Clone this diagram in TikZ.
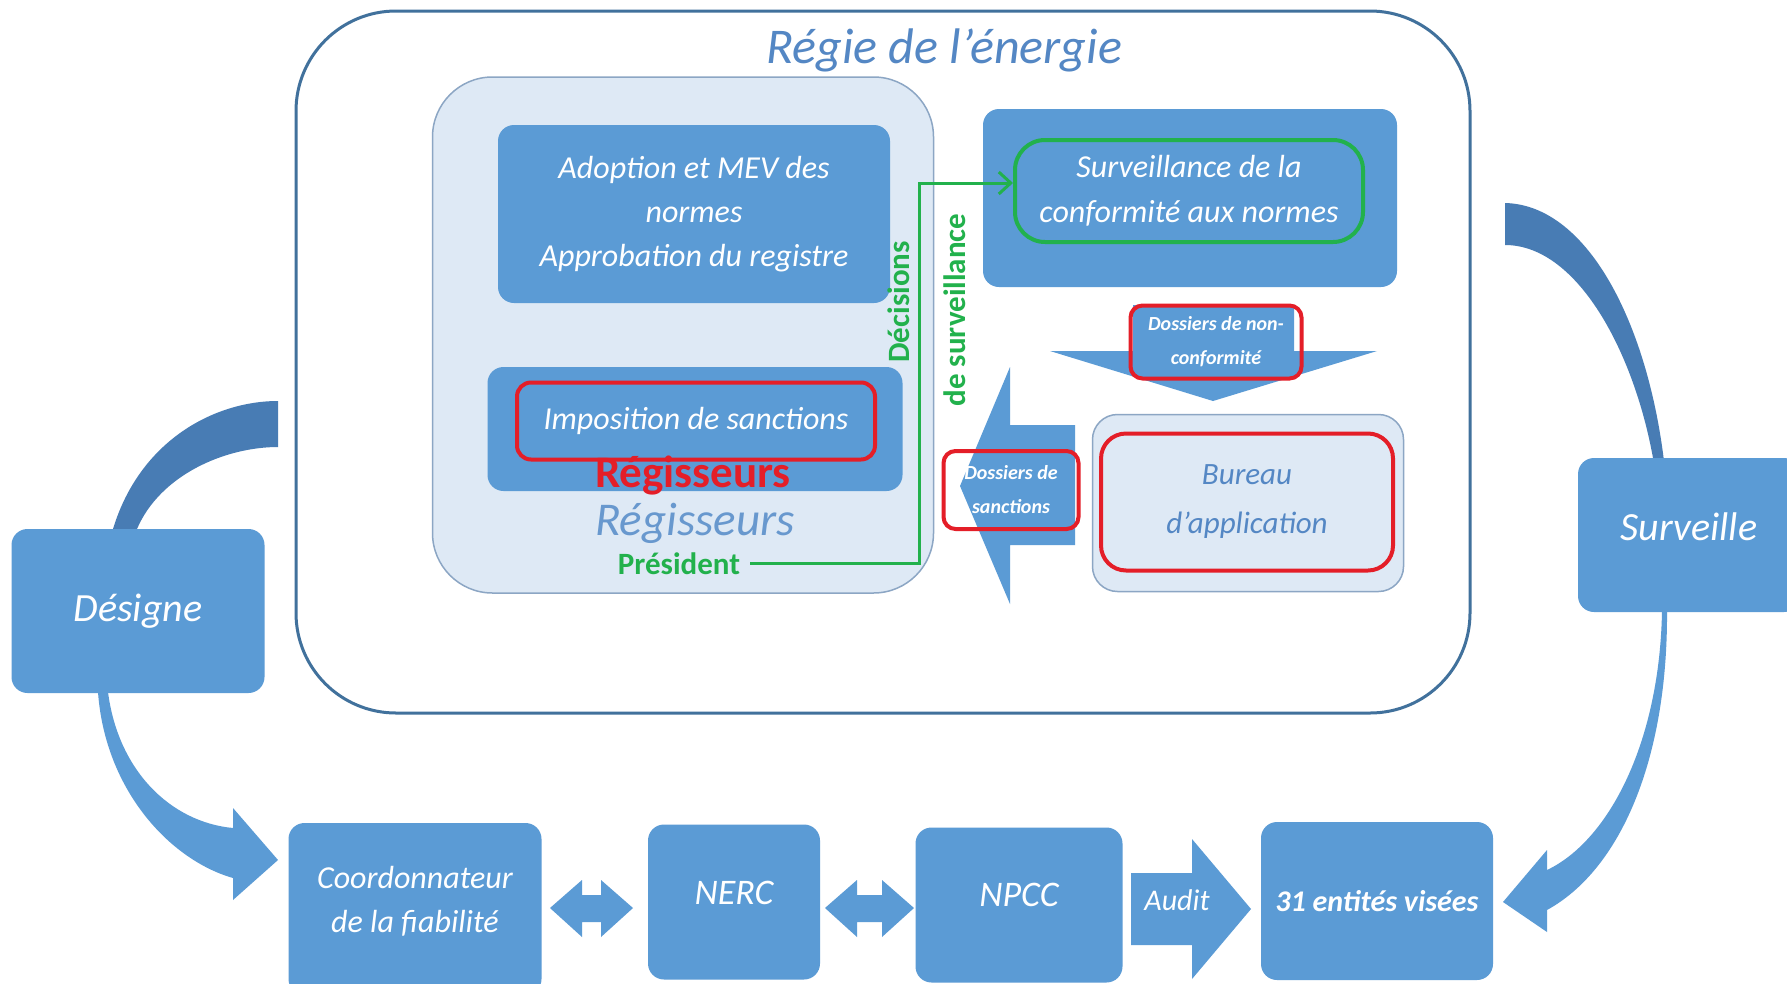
\documentclass[tikz,border=0pt]{standalone}
\usepackage{fontspec}
\setmainfont{Carlito}
\usetikzlibrary{arrows.meta, positioning, calc}
\definecolor{boxblue}{RGB}{91,155,213}
\definecolor{darkblue}{RGB}{72,124,180}
\definecolor{frameblue}{RGB}{65,113,156}
\definecolor{paleblue}{RGB}{222,233,245}
\definecolor{paleedge}{RGB}{140,166,196}
\definecolor{titleblue}{RGB}{84,135,196}
\definecolor{softblue}{RGB}{104,152,206}
\definecolor{ringred}{RGB}{228,30,40}
\definecolor{ringgreen}{RGB}{34,177,76}

\begin{document}
\begin{tikzpicture}[x=1pt, y=-1pt,
    bluebox/.style={fill=boxblue, rounded corners=16pt, inner sep=0pt, text=white, align=center,
      font=\itshape\fontsize{32}{44}\selectfont},
    palebox/.style={fill=paleblue, draw=paleedge, line width=1.5pt, inner sep=0pt},
    redring/.style={draw=ringred, line width=4pt, rounded corners=14pt, inner sep=0pt},
    greenring/.style={draw=ringgreen, line width=4pt, rounded corners=30pt, inner sep=0pt},
    greentext/.style={text=ringgreen, font=\bfseries\fontsize{31}{31}\selectfont, inner sep=0pt},
    smalltext/.style={text=white, align=center, font=\bfseries\itshape\fontsize{20}{34}\selectfont}]
    \useasboundingbox (0,0) rectangle (1787,983);
    \fill[white] (0,0) rectangle (1787,983);
    % curved arrows, back halves
    \fill[darkblue] (278,401) .. controls (215,401) and (140,440) .. (113,529) -- (108,560) -- (133,560)
        -- (137,529) .. controls (160,475) and (225,447) .. (278,447) -- cycle;
    \fill[darkblue] (1505,203) .. controls (1590,205) and (1650,330) .. (1665,470) -- (1655,470)
        .. controls (1638,360) and (1580,245) .. (1505,245) -- cycle;
    % curved arrows, front halves
    \fill[boxblue] (96,670) -- (98,692) .. controls (105,790) and (170,860) .. (233,878) -- (233,900)
        -- (278,860) -- (233,808) -- (233,828) .. controls (170,822) and (118,770) .. (108,692) -- (106,670) -- cycle;
    \fill[boxblue] (1662,600) -- (1667,600) -- (1667,610) .. controls (1668,760) and (1620,870) .. (1547,910)
        -- (1547,932) -- (1503,902) -- (1547,850) -- (1547,870) .. controls (1610,840) and (1660,740) .. (1662,610) -- cycle;

    % Regie de l'energie
    \node[draw=frameblue, line width=3pt, rounded corners=100pt, minimum width=1174pt, minimum height=702pt] (regie) at (883,362) {};
    \node[anchor=base, text=titleblue, font=\itshape\fontsize{50}{50}\selectfont] (title) at (944,63) {Régie de l’énergie};

    % Regisseurs
    \node[palebox, rounded corners=60pt, minimum width=501pt, minimum height=516pt] (regisseurs) at (683,335) {};
    \node[bluebox, minimum width=392pt, minimum height=178pt] (adoption) at (694,214) {Adoption et MEV des\\normes\\Approbation du registre};
    \node[bluebox, minimum width=415pt, minimum height=124pt] (sanctions) at (695,429) {};
    \node[redring, minimum width=358pt, minimum height=77pt, text=white, font=\itshape\fontsize{32}{32}\selectfont] (imposition) at (696,421) {Imposition de sanctions};
    \node[anchor=base, inner sep=0pt, text=ringred, font=\bfseries\fontsize{45}{45}\selectfont] (redreg) at (693,487) {Régisseurs};
    \node[anchor=base, inner sep=0pt, text=softblue, font=\itshape\fontsize{47}{47}\selectfont] (bluereg) at (695,535) {Régisseurs};
    \node[greentext, anchor=base] (president) at (679,574) {Président};
    \node[greentext, rotate=90] (decisions) at (899,302) {Décisions};
    \node[greentext, rotate=90] (desurv) at (955,310) {de surveillance};

    % Surveillance et bureau
    \node[bluebox, minimum width=414pt, minimum height=178pt] (surveillance) at (1190,198) {};
    \node[greenring, minimum width=348pt, minimum height=102pt, text=white, align=center,
      font=\itshape\fontsize{32}{45}\selectfont] (conformite) at (1189,191) {Surveillance de la\\conformité aux normes};
    \draw[ringgreen, line width=3pt, -{Straight Barb[length=12pt, width=22pt]}]
      ([xshift=10pt]president.east) -| ([xshift=-94pt, yshift=8pt]conformite.west) -- ([yshift=8pt]conformite.west);

    \fill[boxblue] (1133,305) -- (1294,305) -- (1294,351) -- (1377,351) -- (1213,401) -- (1050,351) -- (1133,351) -- cycle;
    \fill[boxblue] (1075,425) -- (1075,545) -- (1010,545) -- (1010,604) -- (960,486) -- (1010,367) -- (1010,425) -- cycle;
    \node[redring, smalltext, rounded corners=12pt, minimum width=171pt, minimum height=73pt] (nonconf) at (1216,342) {Dossiers de non-\\conformité};
    \node[redring, smalltext, rounded corners=12pt, minimum width=135pt, minimum height=78pt] (dossanc) at (1011,490) {Dossiers de\\sanctions};

    \node[palebox, rounded corners=25pt, minimum width=311pt, minimum height=177pt] (bureau) at (1248,503) {};
    \node[redring, rounded corners=25pt, minimum width=292pt, minimum height=137pt, text=titleblue, align=center,
      font=\itshape\fontsize{31}{49}\selectfont] (application) at (1247,502) {Bureau\\d’application};

    % side boxes
    \node[bluebox, font=\itshape\fontsize{40}{40}\selectfont, minimum width=253pt, minimum height=164pt] (designe) at (138,611) {Désigne};
    \node[bluebox, font=\itshape\fontsize{40}{40}\selectfont, text depth=16pt, minimum width=222pt, minimum height=154pt] (surveille) at (1689,535) {Surveille};

    % bottom row
    \node[bluebox, text depth=20pt, minimum width=253pt, minimum height=172pt] (coord) at (415,909) {Coordonnateur\\de la fiabilité};
    \node[bluebox, font=\itshape\fontsize{36}{36}\selectfont, text depth=18pt, minimum width=172pt, minimum height=155pt] (nerc) at (734,902) {NERC};
    \node[bluebox, font=\itshape\fontsize{36}{36}\selectfont, text depth=20pt, minimum width=207pt, minimum height=155pt] (npcc) at (1019,905) {NPCC};
    \node[bluebox, font=\bfseries\itshape\fontsize{30}{30}\selectfont, minimum width=232pt, minimum height=158pt] (entites) at (1377,901) {31 entités visées};
    \foreach \a/\b in {550/633, 825/914} {
        \fill[boxblue] (\a,908) -- (\a+32,880) -- (\a+32,895) -- (\b-32,895) -- (\b-32,880) -- (\b,908)
            -- (\b-32,937) -- (\b-32,922) -- (\a+32,922) -- (\a+32,937) -- cycle;
    }
    \fill[boxblue] (1131,873) -- (1192,873) -- (1192,839) -- (1251,909) -- (1192,979) -- (1192,945) -- (1131,945) -- cycle;
    \node[anchor=base, text=white, font=\itshape\fontsize{30}{30}\selectfont] (audit) at (1177,910) {Audit};
\end{tikzpicture}
\end{document}
